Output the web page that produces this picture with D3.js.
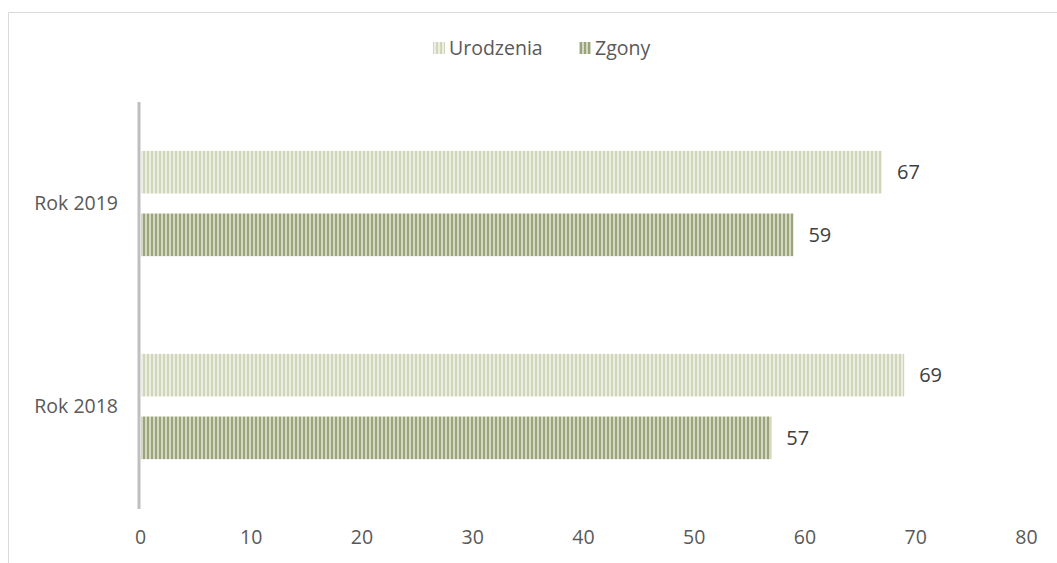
<!DOCTYPE html>
<html>
<head>
<meta charset="utf-8">
<script src="https://cdn.jsdelivr.net/npm/d3@7"></script>
<style>
  body { margin: 0; background: #fff; }
  svg { display: block; font-family: "Open Sans", "Liberation Sans", sans-serif; }
</style>
</head>
<body>
<svg id="chart" width="1057" height="563"></svg>
<script>
// categories top to bottom, series in legend order
const categories = ["Rok 2019", "Rok 2018"]
const series = ["Urodzenia", "Zgony"]
const urodzenia = [67, 69]
const zgony = [59, 57]
const ticks = [0, 10, 20, 30, 40, 50, 60, 70, 80]

const width = 1057
const height = 563
const margin = { left: 140, right: 31, top: 102, bottom: 55 }

const svg = d3.select("#chart")

// striped fills, like the office "vertical stripe" texture
const defs = svg.append("defs")
const fills = [
  { id: "pUro", base: "#d0d6ba", light: "#eceee2" },
  { id: "pZg", base: "#9aa379", light: "#d3d8c3" }
]
fills.forEach(f => {
  const p = defs.append("pattern")
    .attr("id", f.id)
    .attr("patternUnits", "userSpaceOnUse")
    .attr("width", 4)
    .attr("height", 10)
  p.append("rect").attr("width", 4).attr("height", 10).attr("fill", f.base)
  p.append("rect").attr("x", 1).attr("width", 2).attr("height", 10).attr("fill", f.light)
})

// chart border (only left and top visible in the crop)
svg.append("path")
  .attr("d", `M8.5,${height} V12.5 H${width}`)
  .attr("fill", "none")
  .attr("stroke", "#d9d9d9")

const x = d3.scaleLinear()
  .domain([0, 80])
  .range([margin.left, width - margin.right])

const y = d3.scaleBand()
  .domain(categories)
  .range([margin.top, height - margin.bottom])

const y2 = d3.scaleBand()
  .domain(series)
  .range([0, y.bandwidth()])
  .paddingInner(0.32)
  .paddingOuter(0.78)

const rows = categories.map((c, i) => ({
  cat: c,
  vals: [
    { s: "Urodzenia", v: urodzenia[i], fill: "url(#pUro)" },
    { s: "Zgony", v: zgony[i], fill: "url(#pZg)" }
  ]
}))

const g = svg.selectAll(".cat")
  .data(rows)
  .enter()
  .append("g")
  .attr("transform", d => `translate(0,${y(d.cat)})`)

g.selectAll("rect")
  .data(d => d.vals)
  .enter()
  .append("rect")
  .attr("x", x(0) + 1)
  .attr("y", d => y2(d.s))
  .attr("width", d => x(d.v) - x(0) - 1)
  .attr("height", y2.bandwidth())
  .attr("fill", d => d.fill)

g.selectAll("text")
  .data(d => d.vals)
  .enter()
  .append("text")
  .attr("x", d => x(d.v) + 15)
  .attr("y", d => y2(d.s) + y2.bandwidth() / 2)
  .attr("dy", "0.35em")
  .attr("fill", "#404040")
  .style("font-size", "20px")
  .text(d => d.v)

// category labels
svg.selectAll(".catLabel")
  .data(categories)
  .enter()
  .append("text")
  .attr("x", 118)
  .attr("y", d => y(d) + y.bandwidth() / 2)
  .attr("dy", "0.35em")
  .attr("text-anchor", "end")
  .attr("fill", "#595959")
  .style("font-size", "19.5px")
  .text(d => d)

// vertical axis line
svg.append("line")
  .attr("x1", x(0) - 1).attr("x2", x(0) - 1)
  .attr("y1", margin.top).attr("y2", height - margin.bottom + 1)
  .attr("stroke", "#bfbfbf")
  .attr("stroke-width", 3)

// value axis, labels only
const xAxis = svg.append("g")
  .attr("transform", `translate(0,${height - margin.bottom})`)
  .call(d3.axisBottom(x).tickValues(ticks).tickSize(0).tickPadding(22))
xAxis.select(".domain").remove()
xAxis.selectAll("text")
  .attr("fill", "#595959")
  .style("font-size", "19.5px")
  .style("font-family", "\"Open Sans\", \"Liberation Sans\", sans-serif")

// legend
const legend = svg.append("g").attr("transform", "translate(433,48)")
const legItems = [
  { s: series[0], fill: "url(#pUro)", x: 0 },
  { s: series[1], fill: "url(#pZg)", x: 146 }
]
legItems.forEach(d => {
  legend.append("rect")
    .attr("x", d.x).attr("y", -6).attr("width", 12).attr("height", 12)
    .attr("fill", d.fill)
  legend.append("text")
    .attr("x", d.x + 16).attr("y", 0).attr("dy", "0.35em")
    .attr("fill", "#595959")
    .style("font-size", "19.5px")
    .text(d.s)
})
</script>
</body>
</html>
